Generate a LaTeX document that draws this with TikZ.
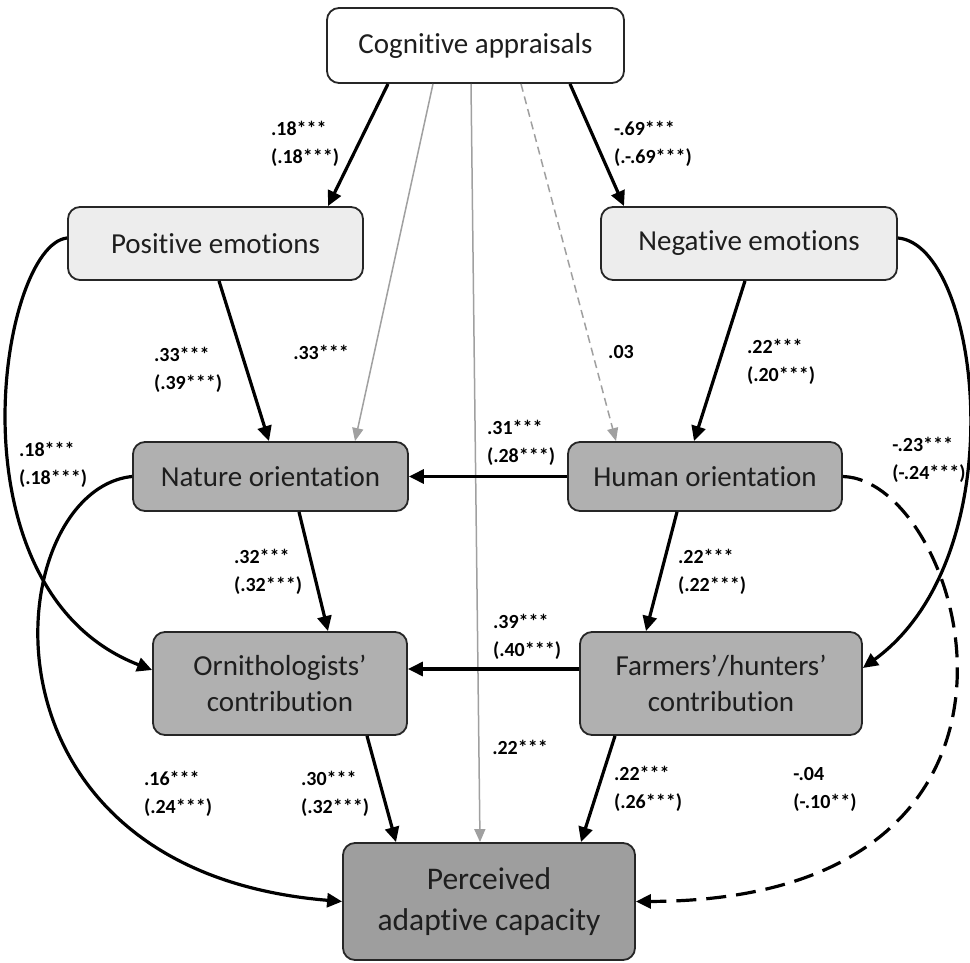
\documentclass[tikz,border=0pt]{standalone}
\usepackage{fontspec}
\setmainfont{Carlito}[Ligatures=CommonOff]
\usetikzlibrary{arrows.meta}
\definecolor{emo}{HTML}{EDEDED}
\definecolor{mid}{HTML}{B0B0B0}
\definecolor{dark}{HTML}{9E9E9E}
\definecolor{thin}{HTML}{A0A0A0}
\definecolor{edge}{HTML}{262626}
\definecolor{txt}{HTML}{1E1E1E}
\begin{document}
\begin{tikzpicture}[x=1pt,y=-1pt,
  box/.style={draw=edge, line width=1.8pt, rounded corners=12pt, inner sep=0pt, align=center,
              text=txt, font=\fontsize{29}{36}\selectfont},
  bigbox/.style={box, font=\fontsize{31.5}{41}\selectfont},
  lab/.style={inner sep=0pt, align=left, font=\bfseries\fontsize{20}{28}\selectfont},
  arr/.style={line width=3.2pt, -{Triangle[length=15pt,width=14pt]}},
  garr/.style={draw=thin, line width=1.5pt, -{Triangle[length=13pt,width=11pt]}},
  gdash/.style={garr, dash pattern=on 8pt off 5pt},
  tdash/.style={arr, dash pattern=on 20pt off 10pt}
]
\useasboundingbox (0,0) rectangle (970,963);
\fill[white] (0,0) rectangle (970,963);

\node[box, fill=white, minimum width=297, minimum height=75] (cog) at (475.5,45.5) {Cognitive appraisals};
\node[box, fill=emo, minimum width=295, minimum height=73] (pos) at (215.5,243.5) {Positive emotions};
\node[box, fill=emo, minimum width=296, minimum height=73] (neg) at (749,243.5) {Negative emotions};
\node[box, fill=mid, minimum width=275, minimum height=69] (nat) at (270.5,476.5) {Nature orientation};
\node[box, fill=mid, minimum width=274, minimum height=69] (hum) at (705,476.5) {Human orientation};
\node[box, fill=mid, minimum width=254, minimum height=103] (orn) at (280,683.5) {Ornithologists’\\contribution};
\node[box, fill=mid, minimum width=282, minimum height=103] (far) at (721,683.5) {Farmers’/hunters’\\contribution};
\node[bigbox, fill=dark, minimum width=292, minimum height=117] (per) at (489,901.5) {Perceived\\adaptive capacity};

% gray direct paths
\draw[garr] ([xshift=-42.5pt]cog.south) -- ([xshift=84.5pt]nat.north);
\draw[garr] ([xshift=-4.5pt]cog.south) -- ([xshift=-9pt]per.north);
\draw[gdash] ([xshift=45.5pt]cog.south) -- ([xshift=-89pt]hum.north);

% straight thick arrows
\draw[arr] ([xshift=-87.5pt]cog.south) -- ([xshift=112.5pt]pos.north);
\draw[arr] ([xshift=94.5pt]cog.south) -- ([xshift=-125pt]neg.north);
\draw[arr] ([xshift=3.5pt]pos.south) -- ([xshift=-1.5pt]nat.north);
\draw[arr] ([xshift=-4pt]neg.south) -- ([xshift=-11pt]hum.north);
\draw[arr] (hum.west) -- (nat.east);
\draw[arr] ([xshift=28.5pt]nat.south) -- ([xshift=48pt]orn.north);
\draw[arr] ([xshift=-28pt]hum.south) -- ([xshift=-75pt]far.north);
\draw[arr] ([yshift=14.5pt]far.west) -- ([yshift=14.5pt]orn.east);
\draw[arr] ([xshift=87pt]orn.south) -- ([xshift=-93pt]per.north);
\draw[arr] ([xshift=-106pt]far.south) -- ([xshift=92pt]per.north);

% curved arrows
\draw[arr] ([yshift=5.5pt]pos.west) .. controls (0,245) and (-55,590) .. ([yshift=13.5pt]orn.west);
\draw[arr] (nat.west) .. controls (0,490) and (-40,870) .. (per.west);
\draw[arr] ([yshift=5.5pt]neg.east) .. controls (980,245) and (1018,555) .. ([yshift=15.5pt]far.east);
\draw[tdash] (hum.east) .. controls (965,480) and (1088,900) .. (per.east);

% labels
\node[lab] (l1) at (305,144) {.18***\\(.18***)};
\node[lab] (l2) at (653,144) {-.69***\\(.-.69***)};
\node[lab] (l3) at (188,370) {.33***\\(.39***)};
\node[lab] (l4) at (321,352) {.33***};
\node[lab] (l5) at (621,352) {.03};
\node[lab] (l6) at (781,362) {.22***\\(.20***)};
\node[lab] (l7) at (521,443) {.31***\\(.28***)};
\node[lab] (l8) at (53,465) {.18***\\(.18***)};
\node[lab] (l9) at (929,460) {-.23***\\(-.24***)};
\node[lab] (l10) at (268,572) {.32***\\(.32***)};
\node[lab] (l11) at (712,572) {.22***\\(.22***)};
\node[lab] (l12) at (527,637) {.39***\\(.40***)};
\node[lab] (l13) at (520,747) {.22***};
\node[lab] (l14) at (178,794) {.16***\\(.24***)};
\node[lab] (l15) at (335,794) {.30***\\(.32***)};
\node[lab] (l16) at (648,789) {.22***\\(.26***)};
\node[lab] (l17) at (825,789) {-.04\\(-.10**)};
\end{tikzpicture}
\end{document}
